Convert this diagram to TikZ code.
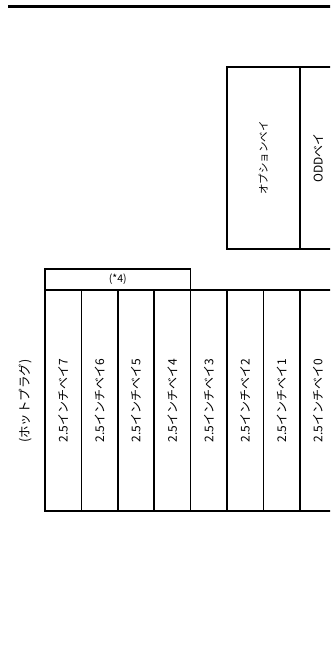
\documentclass[tikz,border=0pt]{standalone}
\usepackage{fontspec}
\setmainfont{Noto Sans CJK JP}
\usepackage{tikz}
\usetikzlibrary{positioning}

\tikzset{
  bay/.style={draw, line width=1.6pt, rotate=90, minimum width=221pt,
    minimum height=36.4pt, inner sep=0pt, font=\fontsize{12}{14}\selectfont},
  hdr/.style={draw, line width=1.6pt, minimum width=145.6pt,
    minimum height=21pt, inner sep=0pt, font=\fontsize{10.5}{12}\selectfont},
  optbay/.style={draw, line width=1.6pt, rotate=90, minimum width=182pt,
    inner sep=0pt, font=\fontsize{10.5}{12}\selectfont}
}

\begin{document}
\begin{tikzpicture}[x=1pt,y=-1pt]
  \useasboundingbox (0,0) rectangle (330,647);
  \clip (0,0) rectangle (330,647);
  \draw[line width=2.2pt] (8,6.5) -- (340,6.5);
  % optional bays
  \node[optbay, minimum height=72.8pt] (opt) at (263.4,158) {オプションベイ};
  \node[optbay, minimum height=36.4pt, font=\fontsize{12}{14}\selectfont] (odd) at (318,158) {ODDベイ};
  % hot plug bays
  \node[hdr] (hdr) at (117.8,279.5) {(*4)};
  \foreach \i in {0,...,7}
    \node[bay] (bay\i) at ({318-36.4*\i},400.5) {2.5インチベイ\i};
  \node[rotate=90, font=\fontsize{12.5}{14}\selectfont] (hot) at (25,401) {(ホットプラグ)};
\end{tikzpicture}
\end{document}
